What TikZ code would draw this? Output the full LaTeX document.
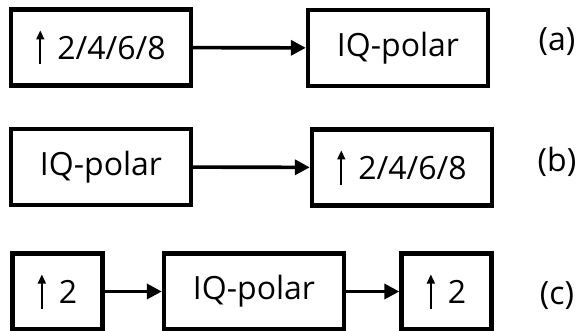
\documentclass[tikz,border=0pt]{standalone}
\usepackage{fontspec}
\setmainfont{Open Sans}
\usepackage{tikz}
\usetikzlibrary{arrows.meta}

% upsampling factor with a small solid up arrow in front
\newcommand{\upby}[1]{\tikz[baseline=0pt]\draw[line width=1.6pt, -{Triangle[length=9pt,width=8pt]}] (0pt,-5pt) -- (0pt,29pt);\hspace{13pt}#1}

\begin{document}
\begin{tikzpicture}[
    x=1pt, y=-1pt,
    block/.style={draw, line width=4.4pt, minimum height=76pt, inner sep=0pt, font=\fontsize{32}{38}\selectfont},
    wide/.style={block, minimum width=180pt},
    narrow/.style={block, minimum width=90pt},
    tag/.style={font=\fontsize{32}{38}\selectfont},
    arrow/.style={-{Triangle[length=15pt,width=15pt]}, line width=3.6pt}
]
\useasboundingbox (0,0) rectangle (583,331);
% (a) upsampling first
\node[wide] (a1) at (101,47.5) {\upby{2/4/6/8}};
\node[wide] (a2) at (398,48) {IQ-polar};
\draw[arrow] (a1) -- (a2);
\node[tag] (la) at (557,42) {(a)};
% (b) conversion first
\node[wide] (b1) at (101,167) {IQ-polar};
\node[wide] (b2) at (402,167.5) {\upby{2/4/6/8}};
\draw[arrow] (b1) -- (b2);
\node[tag] (lb) at (557,162) {(b)};
% (c) split upsampling
\node[narrow] (c1) at (57.5,291.5) {\upby{2}};
\node[wide] (c2) at (254,291.5) {IQ-polar};
\node[narrow] (c3) at (446.5,291.5) {\upby{2}};
\draw[arrow] (c1) -- (c2);
\draw[arrow] (c2) -- (c3);
\node[tag] (lc) at (557,296) {(c)};
\end{tikzpicture}
\end{document}
